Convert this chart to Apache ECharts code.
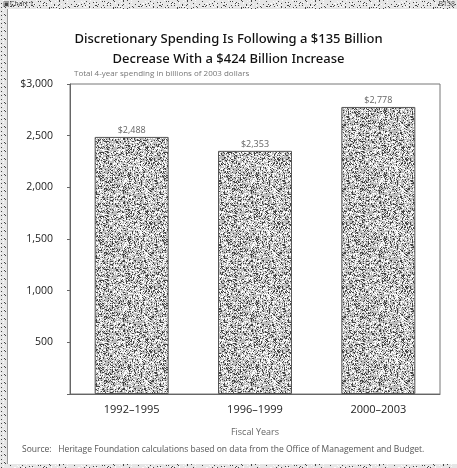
<!DOCTYPE html>
<html><head><meta charset="utf-8">
<script src="https://cdn.jsdelivr.net/npm/echarts@6/dist/echarts.min.js"></script>
<style>html,body{margin:0;padding:0;background:#fff}#c{width:457px;height:468px}</style>
</head><body><div id="c"></div>
<script>
var categories = ['1992–1995', '1996–1999', '2000–2003'];
var spending = [2488, 2353, 2778];
var valueLabels = ['$2,488', '$2,353', '$2,778'];
var yTicks = [0, 500, 1000, 1500, 2000, 2500, 3000];

function makePattern(w, h, base, dark, light) {
  var c = document.createElement('canvas');
  c.width = w; c.height = h;
  var ctx = c.getContext('2d');
  ctx.fillStyle = base; ctx.fillRect(0, 0, w, h);
  var s = 12345;
  function rnd() { s = (s * 1103515245 + 12345) & 0x7fffffff; return s / 0x7fffffff; }
  for (var y = 0; y < h; y++) for (var x = 0; x < w; x++) {
    var r = rnd();
    if (r < dark) { ctx.fillStyle = '#444'; ctx.fillRect(x, y, 1, 1); }
    else if (r > 1 - light) { ctx.fillStyle = '#fafafa'; ctx.fillRect(x, y, 1, 1); }
  }
  return c;
}
var barPat = makePattern(64, 64, '#bdbdbd', 0.2, 0.3);
var stripPat = makePattern(64, 8, '#e6e6e6', 0.1, 0.1);

var chart = echarts.init(document.getElementById('c'), null, {renderer: 'canvas'});
chart.setOption({
  animation: false,
  backgroundColor: '#fff',
  title: {
    text: 'Discretionary Spending Is Following a $135 Billion\nDecrease With a $424 Billion Increase',
    left: 'center', top: 24,
    textStyle: {fontFamily: 'Noto Sans', fontSize: 13, fontWeight: 500, color: '#111', lineHeight: 20}
  },
  grid: {left: 70, right: 17, top: 84, bottom: 74, show: true, borderColor: '#777', borderWidth: 1},
  xAxis: {
    type: 'category', data: categories,
    name: 'Fiscal Years', nameLocation: 'middle', nameGap: 34,
    nameTextStyle: {fontFamily: 'Open Sans', fontSize: 9, color: '#666'},
    axisLine: {lineStyle: {color: '#666'}}, axisTick: {show: false},
    axisLabel: {fontFamily: 'Open Sans', fontSize: 11, color: '#222', margin: 10}
  },
  yAxis: {
    type: 'value', min: 0, max: 3000, interval: 500,
    axisLine: {show: true, lineStyle: {color: '#666'}},
    axisTick: {show: true, length: 3, lineStyle: {color: '#666'}},
    splitLine: {show: false},
    axisLabel: {
      fontFamily: 'Open Sans', fontSize: 10.5, color: '#222', margin: 17,
      formatter: function (v) { if (v === 0) return ''; var s = v.toLocaleString('en-US'); return v === 3000 ? '$' + s : s; }
    }
  },
  series: [{
    type: 'bar', data: spending, barWidth: '60%',
    itemStyle: {color: {image: barPat, repeat: 'repeat'}, borderColor: '#555', borderWidth: 1},
    label: {show: true, position: 'top', distance: 2, fontFamily: 'Open Sans', fontSize: 9, color: '#666',
      formatter: function (p) { return valueLabels[p.dataIndex]; }}
  }],
  graphic: [
    {type: 'rect', left: 0, top: 0, shape: {width: 457, height: 9}, style: {fill: {image: stripPat, repeat: 'repeat'}}},
    {type: 'rect', left: 0, top: 0, shape: {width: 7, height: 468}, style: {fill: {image: stripPat, repeat: 'repeat'}}},
    {type: 'rect', left: 0, top: 464, shape: {width: 457, height: 4}, style: {fill: {image: stripPat, repeat: 'repeat'}}},
    {type: 'line', shape: {x1: 7.5, y1: 9, x2: 7.5, y2: 464}, style: {stroke: '#999', lineWidth: 1}},
    {type: 'text', left: 3, top: 0, style: {text: '▣Chart 1', font: '7px "Open Sans"', fill: '#444'}},
    {type: 'text', right: 2, top: 0, style: {text: 'B158', font: '7px "Open Sans"', fill: '#444'}},
    {type: 'text', left: 74, top: 70, style: {text: 'Total 4-year spending in billions of 2003 dollars', font: '8px "Open Sans"', fill: '#777'}},
    {type: 'text', left: 22, top: 445, style: {text: 'Source:   Heritage Foundation calculations based on data from the Office of Management and Budget.', font: '8.5px "Open Sans"', fill: '#555'}}
  ]
});
</script></body></html>
